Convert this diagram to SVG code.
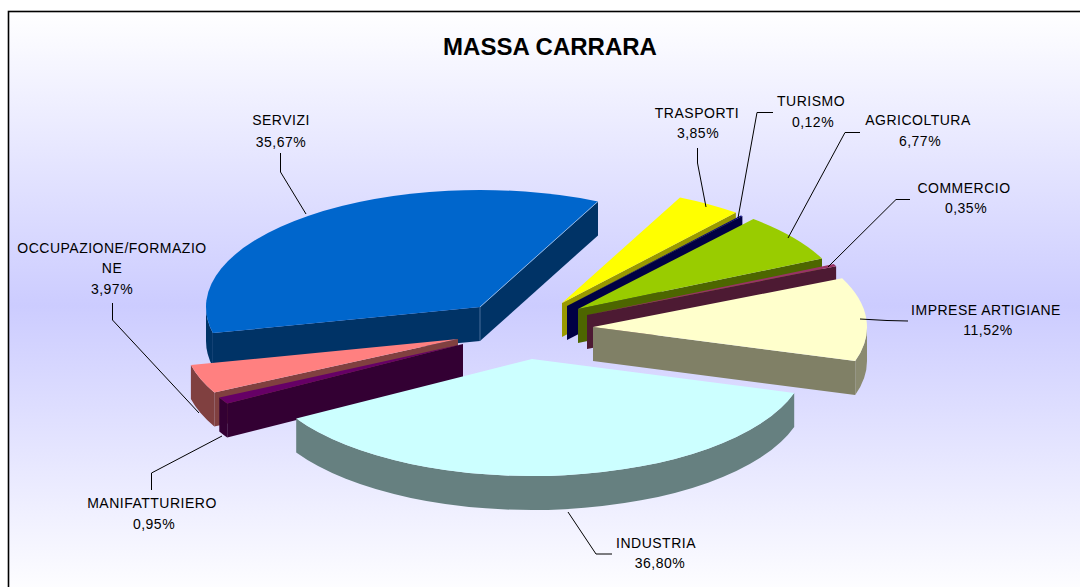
<svg xmlns="http://www.w3.org/2000/svg" width="1080" height="587" viewBox="0 0 1080 587">
<defs>
<linearGradient id="bg" gradientUnits="userSpaceOnUse" x1="0" y1="11" x2="0" y2="600">
<stop offset="0" stop-color="#FFFFFF"/>
<stop offset="0.5" stop-color="#CCCCFF"/>
<stop offset="1" stop-color="#FFFFFF"/>
</linearGradient>
<style>
.lbl{font-family:"Liberation Sans",Arial,sans-serif;font-size:14px;letter-spacing:0.5px;fill:#000;text-anchor:middle}
.title{font-family:"Liberation Sans",Arial,sans-serif;font-size:24px;font-weight:bold;fill:#000;text-anchor:middle}
.lead{fill:none;stroke:#000;stroke-width:1}
</style>
</defs>
<rect width="1080" height="587" fill="#FFFFFF"/>
<rect x="8.5" y="11.5" width="1100" height="620" fill="url(#bg)" stroke="#000" stroke-width="1.6"/>
<text class="title" x="550" y="55">MASSA CARRARA</text>

<g id="servizi">
<path d="M480,307 L212.9,333.1 L212.9,367.1 L480,341 Z" fill="#003366"/>
<path d="M480,307 L598,201.4 L598,235.4 L480,341 Z" fill="#003366"/>
<path d="M212.9,333.1 A274,117 0 0 1 206,307 L206,341 A274,117 0 0 0 212.9,367.1 Z" fill="#003366"/>
<path d="M480,307 L212.9,333.1 A274,117 0 0 1 598,201.4 Z" fill="#0066CC"/>
<path d="M480,307 L598,201.4" stroke="#8DB4E2" stroke-width="1" fill="none"/>
<path d="M480,307 L480,341" stroke="#5A7FA8" stroke-width="0.8" fill="none"/>
<text class="lbl" x="281" y="125">SERVIZI</text>
<text class="lbl" x="281" y="147">35,67%</text>
</g>

<g id="trasporti">
<path d="M562,303 L735.9,212.6 L735.9,246.6 L562,337 Z" fill="#999900"/>
<path d="M562,303 L680,197.4 A274,117 0 0 1 735.9,212.6 Z" fill="#FFFF00"/>
<text class="lbl" x="697" y="118">TRASPORTI</text>
<text class="lbl" x="698" y="138">3,85%</text>
</g>

<g id="turismo">
<path d="M567,306 L742.4,216.1 L742.4,250.1 L567,340 Z" fill="#000044"/>
<path d="M567,306 L740.9,215.6 A274,117 0 0 1 742.4,216.1 Z" fill="#000080"/>
<text class="lbl" x="811" y="106">TURISMO</text>
<text class="lbl" x="813" y="127">0,12%</text>
</g>

<g id="agricoltura">
<path d="M578,309 L822,258.5 L822,292.5 L578,343 Z" fill="#4D6600"/>
<path d="M578,309 L753.4,219.1 A274,117 0 0 1 822,258.5 Z" fill="#99CC00"/>
<text class="lbl" x="918" y="125">AGRICOLTURA</text>
<text class="lbl" x="920" y="146">6,77%</text>
</g>

<g id="commercio">
<path d="M587,315 L836.1,266.3 L836.1,300.3 L587,349 Z" fill="#4D1A33"/>
<path d="M587,315 L833.7,264.1 A274,117 0 0 1 836.1,266.3 Z" fill="#993366"/>
<text class="lbl" x="964" y="193">COMMERCIO</text>
<text class="lbl" x="966" y="213">0,35%</text>
</g>

<g id="imprese-artigiane">
<path d="M593,327 L855.2,361 L855.2,395 L593,361 Z" fill="#808066"/>
<path d="M867,327 A274,117 0 0 1 855.2,361 L855.2,395 A274,117 0 0 0 867,361 Z" fill="#8A8A70"/>
<path d="M593,327 L842.1,278.3 A274,117 0 0 1 855.2,361 Z" fill="#FFFFCC"/>
<text class="lbl" x="986" y="315">IMPRESE ARTIGIANE</text>
<text class="lbl" x="988" y="335">11,52%</text>
</g>

<g id="occupazione-formazione">
<path d="M458,339 L214.3,392.5 L214.3,426.5 L458,373 Z" fill="#804040"/>
<path d="M214.3,392.5 A274,117 0 0 1 190.9,365.1 L190.9,399.1 A274,117 0 0 0 214.3,426.5 Z" fill="#804040"/>
<path d="M458,339 L214.3,392.5 A274,117 0 0 1 190.9,365.1 Z" fill="#FF8080"/>
<text class="lbl" x="112" y="253">OCCUPAZIONE/FORMAZIO</text>
<text class="lbl" x="112" y="273">NE</text>
<text class="lbl" x="112" y="294">3,97%</text>
</g>

<g id="manifatturiero">
<path d="M463,344 L227.2,403.6 L227.2,437.6 L463,378 Z" fill="#330033"/>
<path d="M227.2,403.6 A274,117 0 0 1 219.3,397.5 L219.3,431.5 A274,117 0 0 0 227.2,437.6 Z" fill="#330033"/>
<path d="M463,344 L227.2,403.6 A274,117 0 0 1 219.3,397.5 Z" fill="#660066"/>
<text class="lbl" x="152" y="508">MANIFATTURIERO</text>
<text class="lbl" x="154" y="529">0,95%</text>
</g>

<g id="industria">
<path d="M794.2,393 A274,117 0 0 1 296.2,418.6 L296.2,452.6 A274,117 0 0 0 794.2,427 Z" fill="#668080"/>
<path d="M532,359 L794.2,393 A274,117 0 0 1 296.2,418.6 Z" fill="#CCFFFF"/>
<text class="lbl" x="656" y="548">INDUSTRIA</text>
<text class="lbl" x="660" y="568">36,80%</text>
</g>

<g id="connectors">
<path class="lead" d="M280.5,153 L280.5,172 L306,214"/>
<path class="lead" d="M112.5,303 L112.5,320 L199,413"/>
<path class="lead" d="M151.5,490 L151.5,473 L222,436"/>
<path class="lead" d="M568,512 L596,554 L612,554"/>
<path class="lead" d="M697.5,148 L697.5,163 L706,207"/>
<path class="lead" d="M773,112.5 L757,112.5 L738,218"/>
<path class="lead" d="M860,132.5 L845,132.5 L788,238"/>
<path class="lead" d="M910,199.5 L896,199.5 L828,267"/>
<path class="lead" d="M860,319 L887,320.5 L908,321"/>
</g>
</svg>
